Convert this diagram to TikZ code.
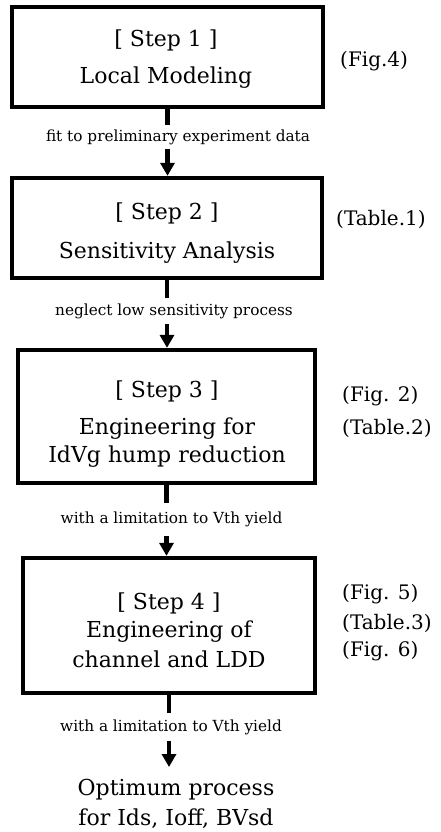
\documentclass[tikz,border=0pt]{standalone}
\usepackage{fontspec}
\setmainfont{DejaVu Serif}
\usetikzlibrary{arrows.meta}
\begin{document}
\begin{tikzpicture}[x=1pt,y=-1pt,
  stepbox/.style={draw, line width=4.3pt, inner sep=0pt},
  boxtext/.style={inner sep=0pt, align=center, font=\fontsize{22}{28}\selectfont},
  flowlabel/.style={inner sep=0pt, font=\fontsize{15.3}{17}\selectfont},
  sidelabel/.style={anchor=west, inner sep=0pt, font=\fontsize{20}{22}\selectfont},
  stem/.style={line width=4.5pt},
  flowarrow/.style={line width=4.5pt, -{Triangle[width=14pt,length=13pt]}}
]
\useasboundingbox[fill=white] (0,0) rectangle (441,832);

\node[stepbox, minimum width=311pt, minimum height=100pt] (b1) at (167.5,57) {};
\node[stepbox, minimum width=310pt, minimum height=100pt] (b2) at (167,228) {};
\node[stepbox, minimum width=297pt, minimum height=133pt] (b3) at (166.5,416.5) {};
\node[stepbox, minimum width=292pt, minimum height=135pt] (b4) at (169,625.5) {};

\node[boxtext] (t1) at (166,59.5) {[ Step 1 ]\\[9pt] Local Modeling};
\node[boxtext] (t2) at (167,233.5) {[ Step 2 ]\\[11pt] Sensitivity Analysis};
\node[boxtext] (t3) at (167,424) {[ Step 3 ]\\[9pt] Engineering for\\ IdVg hump reduction};
\node[boxtext] (t4) at (169,630) {[ Step 4 ]\\ Engineering of\\[2pt] channel and LDD};

\node[flowlabel, minimum height=23pt] (l1) at (178,137) {fit to preliminary experiment data};
\node[flowlabel, minimum height=26pt] (l2) at (174,311) {neglect low sensitivity process};
\node[flowlabel, minimum height=33pt] (l3) at (171.5,519.5) {with a limitation to Vth yield};
\node[flowlabel, minimum height=28pt] (l4) at (171,727) {with a limitation to Vth yield};

\node[align=center, anchor=north, inner xsep=0pt, inner ysep=12pt, font=\fontsize{22}{30}\selectfont] (res) at (176,767) {Optimum process\\for Ids, Ioff, BVsd};

\node[sidelabel] (s1) at (340,61) {(Fig.4)};
\node[sidelabel] (s2) at (336,219) {(Table.1)};
\node[sidelabel] (s3) at (342,396) {(Fig. 2)};
\node[sidelabel] (s4) at (342,428) {(Table.2)};
\node[sidelabel] (s5) at (342,594) {(Fig. 5)};
\node[sidelabel] (s6) at (342,623) {(Table.3)};
\node[sidelabel] (s7) at (342,651) {(Fig. 6)};

\draw[stem] (b1.south) -- (b1.south |- l1.north);
\draw[flowarrow] (b1.south |- l1.south) -- (b1.south |- b2.north);
\draw[stem] (b2.south) -- (b2.south |- l2.north);
\draw[flowarrow] (b2.south |- l2.south) -- (b2.south |- b3.north);
\draw[stem] (b3.south) -- (b3.south |- l3.north);
\draw[flowarrow] (b3.south |- l3.south) -- (b3.south |- b4.north);
\draw[stem] (b4.south) -- (b4.south |- l4.north);
\draw[flowarrow] (b4.south |- l4.south) -- (b4.south |- res.north);
\end{tikzpicture}
\end{document}
